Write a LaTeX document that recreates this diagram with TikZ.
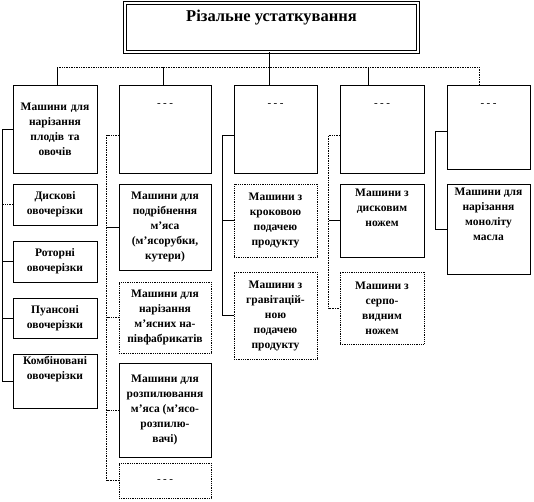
\documentclass[tikz,border=0pt]{standalone}
\usepackage{fontspec}
\setmainfont{Liberation Serif}
\usepackage{xcolor}
\usetikzlibrary{positioning, calc}

\newcommand{\dashes}{-\hspace{2.5pt}-\hspace{2.5pt}-}

\begin{document}
\begin{tikzpicture}[x=1pt, y=-1pt,
  titlebox/.style={rectangle, draw, double, double distance=1.6pt,
                   line width=0.8pt, minimum width=293pt, minimum height=49pt,
                   align=center, font=\fontsize{16.5}{19}\selectfont\bfseries},
  block/.style={rectangle, draw, line width=0.8pt, align=center,
                inner sep=2pt, font=\fontsize{11.5}{15}\selectfont\bfseries},
  dotblock/.style={block, densely dotted},
  blank/.style={label={[anchor=north, yshift=-15pt,
                font=\fontsize{11}{13}\selectfont]north:\dashes}},
  link/.style={line width=0.7pt},
  dlink/.style={line width=0.7pt, densely dotted}
]
\useasboundingbox (0,0) rectangle (534,501);

% Title
\node[titlebox] (title) at (271.5,27.5) {Різальне устаткування\\[5pt]};

% Top level groups
\node[block, minimum width=84pt, minimum height=88pt, text width=80pt] (c1) at (55,129)
      {Машини для\\нарізання\\плодів та\\овочів};
\node[block, blank, minimum width=92pt, minimum height=88pt] (c2) at (165,129) {};
\node[block, blank, minimum width=83pt, minimum height=88pt] (c3) at (275.5,129) {};
\node[block, blank, minimum width=84pt, minimum height=88pt] (c4) at (382,129) {};
\node[block, blank, minimum width=83pt, minimum height=84pt] (c5) at (488.5,127) {};

% Vegetable cutters
\node[block, minimum width=84pt, minimum height=41pt] (k11) at (55,204.5)
      {Дискові\\овочерізки};
\node[block, minimum width=84pt, minimum height=41pt] (k12) at (55,261.5)
      {Роторні\\овочерізки};
\node[block, minimum width=84pt, minimum height=40pt] (k13) at (55,318)
      {Пуансоні\\овочерізки};
\node[block, minimum width=84pt, minimum height=53pt] (k14) at (55,381.5)
      {Комбіновані\\овочерізки\\[12pt]};

% Meat machines
\node[block, minimum width=92pt, minimum height=86pt] (k21) at (165,227)
      {Машини для\\подрібнення\\м’яса\\(м’ясорубки,\\кутери)};
\node[dotblock, minimum width=92pt, minimum height=71pt] (k22) at (165,317.5)
      {Машини для\\нарізання\\м’ясних на-\\півфабрикатів};
\node[block, minimum width=92pt, minimum height=94pt] (k23) at (165,410)
      {Машини для\\розпилювання\\м’яса (м’ясо-\\розпилю-\\вачі)};
\node[dotblock, minimum width=92pt, minimum height=35pt,
      font=\fontsize{11}{13}\selectfont] (k24) at (165,480.5) {\dashes};

% Product feed
\node[dotblock, minimum width=83pt, minimum height=73pt] (k31) at (275.5,220.5)
      {Машини з\\кроковою\\подачею\\продукту};
\node[dotblock, minimum width=83pt, minimum height=87pt] (k32) at (275.5,315.5)
      {Машини з\\гравітацій-\\ною\\подачею\\продукту};

% Knife type
\node[block, minimum width=84pt, minimum height=73pt] (k41) at (382,220.5)
      {Машини з\\дисковим\\ножем\\[10pt]};
\node[dotblock, minimum width=84pt, minimum height=72pt] (k42) at (382,308)
      {Машини з\\серпо-\\видним\\ножем};

% Butter
\node[block, minimum width=83pt, minimum height=90pt] (k51) at (488.5,229)
      {Машини для\\нарізання\\моноліту\\масла\\[14pt]};

% Bus from the title
\coordinate (bus) at (269,67);
\draw[link] (title.south -| bus) -- (bus);
\draw[dlink] ([xshift=2pt]c1.north |- bus) -- ([xshift=-9pt]c5.north |- bus);
\draw[link] ([xshift=2pt]c1.north) -- ([xshift=2pt]c1.north |- bus);
\draw[link] ([xshift=-2pt]c2.north) -- ([xshift=-2pt]c2.north |- bus);
\draw[link] ([xshift=-6pt]c3.north) -- ([xshift=-6pt]c3.north |- bus);
\draw[link] ([xshift=-14pt]c4.north) -- ([xshift=-14pt]c4.north |- bus);
\draw[dlink] ([xshift=-9pt]c5.north) -- ([xshift=-9pt]c5.north |- bus);

% Column 1 links
\draw[link] (c1.west) -- ++(-10,0) coordinate (t1) |- (k14.west);
\draw[dlink] (k11.west) -- (k11.west -| t1);
\draw[link] (k12.west) -- (k12.west -| t1);
\draw[link] (k13.west) -- (k13.west -| t1);

% Column 2 links
\draw[dlink] ([yshift=-6pt]c2.west) -- ++(-12,0) coordinate (t2) |- (k24.west);
\draw[link] (k21.west) -- (k21.west -| t2);
\draw[dlink] (k22.west) -- (k22.west -| t2);
\draw[dlink] (k23.west) -- (k23.west -| t2);

% Column 3 links
\draw[link] ([yshift=-6pt]c3.west) -- ++(-11,0) coordinate (t3) |- (k32.west);
\draw[link] (k31.west) -- (k31.west -| t3);

% Column 4 links
\draw[dlink] ([yshift=-6pt]c4.west) -- ++(-11,0) coordinate (t4) |- (k42.west);
\draw[link] (k41.west) -- (k41.west -| t4);

% Column 5 link
\draw[link] ([yshift=-4pt]c5.west) -- ++(-11,0) |- (k51.west);

\end{tikzpicture}
\end{document}
